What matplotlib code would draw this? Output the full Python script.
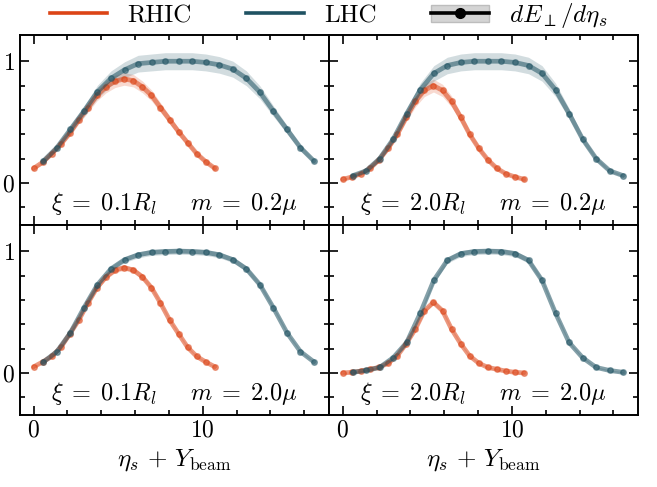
import matplotlib
matplotlib.use("Agg")
import matplotlib.pyplot as plt
from matplotlib.patches import Patch
from matplotlib.lines import Line2D

plt.rcParams['font.family'] = 'serif'
plt.rcParams['font.serif'] = ['cmr10', 'DejaVu Serif']
plt.rcParams['mathtext.fontset'] = 'cm'
plt.rcParams['axes.formatter.use_mathtext'] = True

# ---- data ----
x_rhic = [0.0, 0.54, 1.07, 1.61, 2.14, 2.68, 3.22, 3.75, 4.29, 4.82, 5.36,
          5.90, 6.43, 6.97, 7.50, 8.04, 8.58, 9.11, 9.65, 10.18, 10.72]
x_lhc = [0.58, 1.38, 2.18, 2.98, 3.78, 4.58, 5.38, 6.18, 6.98, 7.78, 8.58,
         9.38, 10.18, 10.98, 11.78, 12.58, 13.38, 14.18, 14.98, 15.78, 16.58]

# panel (xi=0.1 R_l, m=0.2 mu)
rhic_a = [0.12, 0.17, 0.24, 0.32, 0.41, 0.52, 0.62, 0.72, 0.79, 0.835, 0.855,
          0.84, 0.79, 0.72, 0.62, 0.52, 0.42, 0.33, 0.24, 0.175, 0.12]
lhc_a = [0.18, 0.29, 0.44, 0.59, 0.75, 0.86, 0.93, 0.98, 0.99, 1.0, 1.0,
         1.0, 0.99, 0.97, 0.935, 0.86, 0.745, 0.59, 0.44, 0.29, 0.18]
# panel (xi=2.0 R_l, m=0.2 mu)
rhic_b = [0.03, 0.05, 0.075, 0.12, 0.19, 0.285, 0.40, 0.54, 0.67, 0.76, 0.80,
          0.76, 0.67, 0.54, 0.40, 0.285, 0.19, 0.12, 0.075, 0.05, 0.03]
lhc_b = [0.06, 0.10, 0.20, 0.36, 0.57, 0.765, 0.90, 0.965, 0.99, 1.0, 1.0,
         1.0, 0.99, 0.965, 0.90, 0.765, 0.57, 0.36, 0.20, 0.10, 0.06]
# panel (xi=0.1 R_l, m=2.0 mu)
rhic_c = [0.05, 0.09, 0.135, 0.21, 0.32, 0.435, 0.575, 0.70, 0.79, 0.845, 0.865,
          0.845, 0.79, 0.70, 0.575, 0.435, 0.32, 0.21, 0.135, 0.09, 0.05]
lhc_c = [0.09, 0.175, 0.33, 0.535, 0.725, 0.855, 0.93, 0.97, 0.99, 0.997, 1.0,
         0.997, 0.99, 0.97, 0.93, 0.855, 0.725, 0.535, 0.33, 0.175, 0.09]
# panel (xi=2.0 R_l, m=2.0 mu)
rhic_d = [0.0, 0.005, 0.015, 0.03, 0.045, 0.08, 0.14, 0.24, 0.36, 0.51, 0.58,
          0.51, 0.36, 0.24, 0.14, 0.08, 0.045, 0.03, 0.015, 0.005, 0.0]
lhc_d = [0.005, 0.02, 0.045, 0.125, 0.25, 0.49, 0.76, 0.925, 0.98, 0.997, 1.0,
         0.997, 0.98, 0.925, 0.76, 0.49, 0.25, 0.125, 0.045, 0.02, 0.005]

# relative uncertainty band per panel
rel_err_rhic = [0.055, 0.06, 0.02, 0.02]
rel_err_lhc = [0.065, 0.065, 0.02, 0.02]

panel_labels = [r"$\xi \;=\; 0.1R_l\quad\;\; m \;=\; 0.2\mu$",
                r"$\xi \;=\; 2.0R_l\quad\;\; m \;=\; 0.2\mu$",
                r"$\xi \;=\; 0.1R_l\quad\;\; m \;=\; 2.0\mu$",
                r"$\xi \;=\; 2.0R_l\quad\;\; m \;=\; 2.0\mu$"]
rhic_sets = [rhic_a, rhic_b, rhic_c, rhic_d]
lhc_sets = [lhc_a, lhc_b, lhc_c, lhc_d]

legend_labels = ["RHIC", "LHC", r"$dE_\perp/d\eta_s$"]

c_rhic = "#dc4416"
c_lhc = "#1f5262"

fig, axes = plt.subplots(2, 2, figsize=(6.57, 4.87), dpi=100, sharex=True, sharey=True)
fig.subplots_adjust(left=0.0297, right=0.971, top=0.928, bottom=0.148, hspace=0, wspace=0)

for i, ax in enumerate(axes.flat):
    for xs, ys, rel, c in [(x_rhic, rhic_sets[i], rel_err_rhic[i], c_rhic),
                           (x_lhc, lhc_sets[i], rel_err_lhc[i], c_lhc)]:
        lo = [v - rel * v - 0.005 for v in ys]
        hi = [v + rel * v + 0.005 for v in ys]
        ax.fill_between(xs, lo, hi, color=c, alpha=0.2, lw=0)
        ax.plot(xs, ys, '-', color=c, lw=3.4, alpha=0.55, solid_capstyle='round')
        ax.plot(xs, ys, 'o', color=c, ms=4.0, alpha=0.5, mew=1.0)
    ax.text(0.5, 0.115, panel_labels[i], transform=ax.transAxes, ha='center',
            va='center', fontsize=17.5)
    ax.set_xlim(-0.83, 17.45)
    ax.set_ylim(-0.345, 1.215)
    ax.set_xticks([0, 10])
    ax.set_xticks([2, 4, 6, 8, 12, 14, 16], minor=True)
    ax.set_yticks([0, 1])
    ax.set_yticks([-0.2, 0.2, 0.4, 0.6, 0.8], minor=True)
    ax.tick_params(which='both', direction='in', top=True, right=True, width=1.2,
                   labelsize=17)
    ax.tick_params(which='major', length=6.5)
    ax.tick_params(which='minor', length=3.5)
    for s in ax.spines.values():
        s.set_linewidth(1.4)

for ax in axes[1]:
    ax.set_xlabel(r"$\eta_s \,+\, Y_{\rm beam}$", fontsize=18)

handles = [Line2D([], [], color=c_rhic, lw=2.6),
           Line2D([], [], color=c_lhc, lw=2.6),
           (Patch(facecolor="#d4d4d4", edgecolor="#bdbdbd"),
            Line2D([], [], color='black', lw=2.6, marker='o', ms=7))]
fig.legend(handles, legend_labels, loc='center', bbox_to_anchor=(0.5, 0.968),
           ncol=3, frameon=False, fontsize=18, handlelength=2.3,
           handletextpad=0.8, columnspacing=2.2, borderaxespad=0)

fig.savefig("out.png", dpi=100)
